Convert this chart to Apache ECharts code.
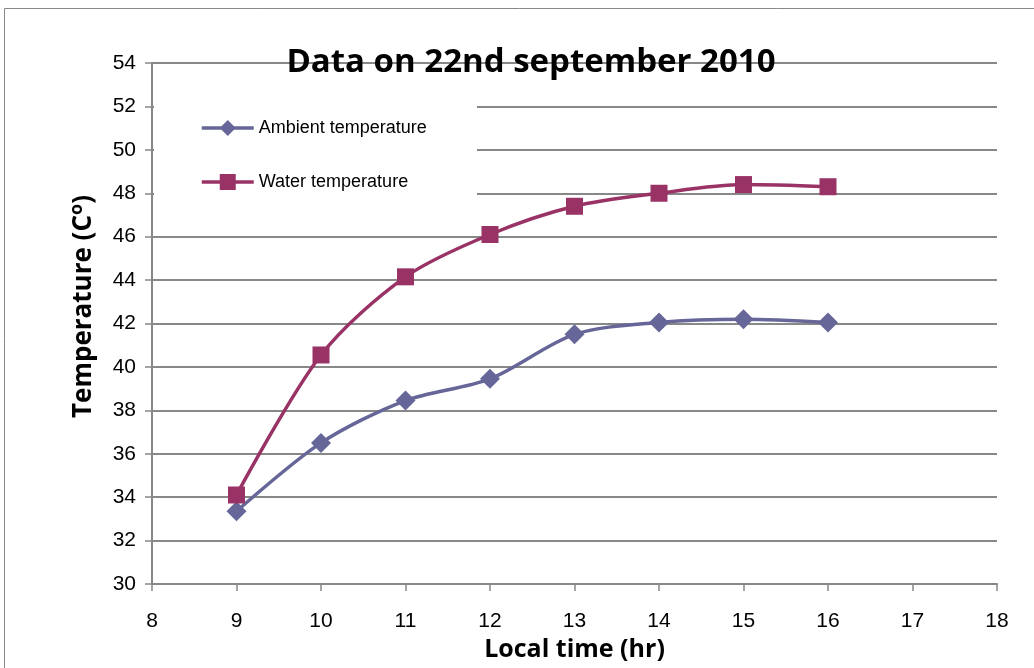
<!DOCTYPE html>
<html>
<head>
<meta charset="utf-8">
<script src="https://cdn.jsdelivr.net/npm/echarts@6/dist/echarts.min.js"></script>
<style>
html,body{margin:0;padding:0;background:#fff;}
#c{width:1034px;height:668px;}
</style>
</head>
<body>
<div id="c"></div>
<script>
const hours = [9, 10, 11, 12, 13, 14, 15, 16];
const ambientTemp = [33.35, 36.5, 38.45, 39.45, 41.5, 42.05, 42.2, 42.05];
const waterTemp = [34.1, 40.55, 44.15, 46.1, 47.4, 48.0, 48.4, 48.3];
const titleText = 'Data on 22nd september 2010';
const seriesNames = ['Ambient temperature', 'Water temperature'];

const chart = echarts.init(document.getElementById('c'));
const axisGray = '#888888';
chart.setOption({
  animation: false,
  backgroundColor: '#fff',
  title: {
    text: titleText,
    left: 526, top: 41, textAlign: 'center',
    textStyle: {fontFamily: 'Open Sans', fontWeight: 'bold', fontSize: 33, color: '#000'},
    z: 10
  },
  graphic: [
    {type: 'rect', shape: {x: 4.5, y: 8.5, width: 1040, height: 680}, style: {fill: 'none', stroke: '#888', lineWidth: 1}, z: 0, silent: true},
    {type: 'rect', shape: {x: 154, y: 90, width: 323, height: 118}, style: {fill: '#fff'}, z: 3, silent: true}
  ],
  legend: {
    orient: 'vertical',
    left: 195, top: 114,
    itemWidth: 52, itemHeight: 20,
    itemGap: 36,
    z: 5,
    lineStyle: {width: 3.5},
    textStyle: {fontFamily: 'Liberation Sans', fontSize: 18, color: '#000'},
    data: [seriesNames[0], seriesNames[1]]
  },
  grid: {left: 152, right: 37, top: 63, bottom: 84},
  xAxis: {
    type: 'value', min: 8, max: 18, interval: 1,
    name: 'Local time (hr)', nameLocation: 'middle', nameGap: 34,
    nameTextStyle: {fontFamily: 'Open Sans', fontWeight: 'bold', fontSize: 25, color: '#000'},
    axisLine: {show: true, lineStyle: {color: axisGray, width: 2}},
    axisTick: {show: true, length: 7, lineStyle: {color: axisGray, width: 1.5}},
    axisLabel: {margin: 27, fontFamily: 'Liberation Sans', fontSize: 21, color: '#000'},
    splitLine: {show: false}
  },
  yAxis: {
    type: 'value', min: 30, max: 54, interval: 2,
    name: 'Temperature (C{sup|o})', nameLocation: 'middle', nameGap: 52,
    nameTextStyle: {fontFamily: 'Open Sans', fontWeight: 'bold', fontSize: 26, color: '#000',
      padding: [0, 0, 0, 34],
      rich: {sup: {fontFamily: 'Open Sans', fontWeight: 'bold', fontSize: 18, verticalAlign: 'top', padding: [0, 0, 14, 0], color: '#000'}}},
    axisLine: {show: true, lineStyle: {color: axisGray, width: 2}},
    axisTick: {show: true, length: 7, lineStyle: {color: axisGray, width: 1.5}},
    axisLabel: {margin: 16, fontFamily: 'Liberation Sans', fontSize: 21, color: '#000'},
    splitLine: {show: true, lineStyle: {color: axisGray, width: 2}}
  },
  series: [
    {
      name: seriesNames[0], type: 'line', smooth: 0.3,
      data: hours.map((h, i) => [h, ambientTemp[i]]),
      symbol: 'diamond', symbolSize: 20,
      itemStyle: {color: '#666699'},
      lineStyle: {color: '#666699', width: 3.5},
      z: 3
    },
    {
      name: seriesNames[1], type: 'line', smooth: 0.3,
      data: hours.map((h, i) => [h, waterTemp[i]]),
      symbol: 'rect', symbolSize: 17,
      itemStyle: {color: '#993366'},
      lineStyle: {color: '#993366', width: 3.5},
      z: 3
    }
  ]
});
</script>
</body>
</html>
